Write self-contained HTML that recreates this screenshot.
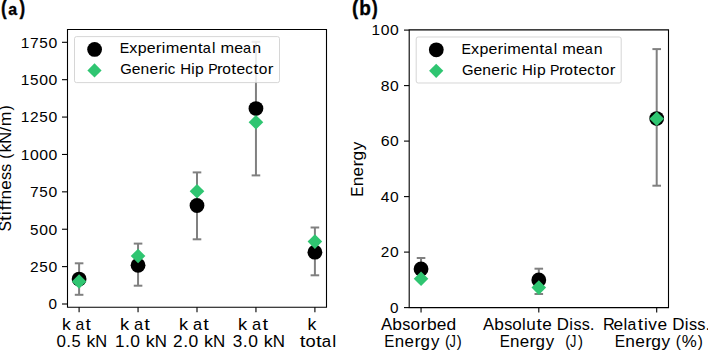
<!DOCTYPE html>
<html><head><meta charset="utf-8"><style>html,body{margin:0;padding:0;background:#fff;overflow:hidden}</style></head><body><svg width="708" height="351" viewBox="0 0 708 351" style="display:block">
<rect width="708" height="351" fill="#fff"/>
<g font-family="Liberation Sans, sans-serif">
<line x1="79.1" y1="263.3" x2="79.1" y2="294.8" stroke="#808080" stroke-width="2.0"/>
<line x1="74.8" y1="263.3" x2="83.39999999999999" y2="263.3" stroke="#808080" stroke-width="2.0"/>
<line x1="74.8" y1="294.8" x2="83.39999999999999" y2="294.8" stroke="#808080" stroke-width="2.0"/>
<line x1="138.05" y1="243.6" x2="138.05" y2="285.7" stroke="#808080" stroke-width="2.0"/>
<line x1="133.75" y1="243.6" x2="142.35000000000002" y2="243.6" stroke="#808080" stroke-width="2.0"/>
<line x1="133.75" y1="285.7" x2="142.35000000000002" y2="285.7" stroke="#808080" stroke-width="2.0"/>
<line x1="197.0" y1="172.4" x2="197.0" y2="239.3" stroke="#808080" stroke-width="2.0"/>
<line x1="192.7" y1="172.4" x2="201.3" y2="172.4" stroke="#808080" stroke-width="2.0"/>
<line x1="192.7" y1="239.3" x2="201.3" y2="239.3" stroke="#808080" stroke-width="2.0"/>
<line x1="255.95000000000002" y1="41.8" x2="255.95000000000002" y2="175.4" stroke="#808080" stroke-width="2.0"/>
<line x1="251.65" y1="41.8" x2="260.25" y2="41.8" stroke="#808080" stroke-width="2.0"/>
<line x1="251.65" y1="175.4" x2="260.25" y2="175.4" stroke="#808080" stroke-width="2.0"/>
<line x1="314.9" y1="227.5" x2="314.9" y2="275.3" stroke="#808080" stroke-width="2.0"/>
<line x1="310.59999999999997" y1="227.5" x2="319.2" y2="227.5" stroke="#808080" stroke-width="2.0"/>
<line x1="310.59999999999997" y1="275.3" x2="319.2" y2="275.3" stroke="#808080" stroke-width="2.0"/>
<circle cx="79.1" cy="279.05" r="7.4" fill="#000"/>
<circle cx="138.05" cy="265.3" r="7.4" fill="#000"/>
<circle cx="197.0" cy="205.5" r="7.4" fill="#000"/>
<circle cx="255.95000000000002" cy="108.6" r="7.4" fill="#000"/>
<circle cx="314.9" cy="252.2" r="7.4" fill="#000"/>
<path d="M79.1 274.2L86.39999999999999 281.5L79.1 288.8L71.8 281.5Z" fill="#2fc571"/>
<path d="M138.05 248.7L145.35000000000002 256.0L138.05 263.3L130.75 256.0Z" fill="#2fc571"/>
<path d="M197.0 184.0L204.3 191.3L197.0 198.60000000000002L189.7 191.3Z" fill="#2fc571"/>
<path d="M255.95000000000002 114.9L263.25 122.2L255.95000000000002 129.5L248.65 122.2Z" fill="#2fc571"/>
<path d="M314.9 234.29999999999998L322.2 241.6L314.9 248.9L307.59999999999997 241.6Z" fill="#2fc571"/>
<line x1="421.05" y1="258.0" x2="421.05" y2="279.8" stroke="#808080" stroke-width="2.0"/>
<line x1="416.75" y1="258.0" x2="425.35" y2="258.0" stroke="#808080" stroke-width="2.0"/>
<line x1="416.75" y1="279.8" x2="425.35" y2="279.8" stroke="#808080" stroke-width="2.0"/>
<line x1="538.8" y1="268.7" x2="538.8" y2="294.0" stroke="#808080" stroke-width="2.0"/>
<line x1="534.5" y1="268.7" x2="543.0999999999999" y2="268.7" stroke="#808080" stroke-width="2.0"/>
<line x1="534.5" y1="294.0" x2="543.0999999999999" y2="294.0" stroke="#808080" stroke-width="2.0"/>
<line x1="656.7" y1="49.1" x2="656.7" y2="185.7" stroke="#808080" stroke-width="2.0"/>
<line x1="652.4000000000001" y1="49.1" x2="661.0" y2="49.1" stroke="#808080" stroke-width="2.0"/>
<line x1="652.4000000000001" y1="185.7" x2="661.0" y2="185.7" stroke="#808080" stroke-width="2.0"/>
<circle cx="421.05" cy="268.9" r="7.4" fill="#000"/>
<circle cx="538.8" cy="280.0" r="7.4" fill="#000"/>
<circle cx="656.7" cy="118.6" r="7.4" fill="#000"/>
<path d="M421.05 271.5L428.35 278.8L421.05 286.1L413.75 278.8Z" fill="#2fc571"/>
<path d="M538.8 280.3L546.0999999999999 287.6L538.8 294.90000000000003L531.5 287.6Z" fill="#2fc571"/>
<path d="M656.7 111.4L664.0 118.7L656.7 126.0L649.4000000000001 118.7Z" fill="#2fc571"/>
<rect x="74.5" y="36.6" width="205.0" height="45.99999999999999" rx="2" fill="#fff" fill-opacity="0.84" stroke="#cccccc" stroke-opacity="0.8" stroke-width="1"/>
<circle cx="94.6" cy="49.4" r="7.4" fill="#000"/>
<path d="M94.5 63.300000000000004L101.6 70.4L94.5 77.5L87.4 70.4Z" fill="#2fc571"/>
<g font-size="14.1" fill="#000" ><text transform="scale(1.0121,1)" x="118.30" y="53.30">E</text><text transform="scale(1.1451,1)" x="112.88" y="53.30">x</text><text transform="scale(1.1340,1)" x="121.48" y="53.30">p</text><text transform="scale(1.1299,1)" x="129.84" y="53.30">e</text><text transform="scale(1.2306,1)" x="126.61" y="53.30">r</text><text transform="scale(1.0992,1)" x="147.12" y="53.30">i</text><text transform="scale(1.1605,1)" x="142.74" y="53.30">m</text><text transform="scale(1.1299,1)" x="158.81" y="53.30">e</text><text transform="scale(1.1289,1)" x="166.91" y="53.30">n</text><text transform="scale(1.2569,1)" x="157.28" y="53.30">t</text><text transform="scale(1.0310,1)" x="196.74" y="53.30">a</text><text transform="scale(1.0992,1)" x="192.94" y="53.30">l</text><text transform="scale(1.1605,1)" x="190.08" y="53.30">m</text><text transform="scale(1.1299,1)" x="207.44" y="53.30">e</text><text transform="scale(1.0310,1)" x="235.74" y="53.30">a</text><text transform="scale(1.1289,1)" x="223.38" y="53.30">n</text></g>
<g font-size="14.1" fill="#000" ><text transform="scale(1.0529,1)" x="114.29" y="74.40">G</text><text transform="scale(1.1080,1)" x="118.84" y="74.40">e</text><text transform="scale(1.1070,1)" x="126.97" y="74.40">n</text><text transform="scale(1.1080,1)" x="134.86" y="74.40">e</text><text transform="scale(1.2068,1)" x="131.28" y="74.40">r</text><text transform="scale(1.0779,1)" x="152.38" y="74.40">i</text><text transform="scale(1.0679,1)" x="157.20" y="74.40">c</text><text transform="scale(1.0633,1)" x="169.44" y="74.40">H</text><text transform="scale(1.0779,1)" x="177.40" y="74.40">i</text><text transform="scale(1.1120,1)" x="175.45" y="74.40">p</text><text transform="scale(1.0026,1)" x="207.69" y="74.40">P</text><text transform="scale(1.2068,1)" x="179.86" y="74.40">r</text><text transform="scale(1.0992,1)" x="202.24" y="74.40">o</text><text transform="scale(1.2325,1)" x="187.65" y="74.40">t</text><text transform="scale(1.1080,1)" x="213.53" y="74.40">e</text><text transform="scale(1.0679,1)" x="229.65" y="74.40">c</text><text transform="scale(1.2325,1)" x="205.61" y="74.40">t</text><text transform="scale(1.0992,1)" x="235.35" y="74.40">o</text><text transform="scale(1.2068,1)" x="221.81" y="74.40">r</text></g>
<rect x="416.2" y="37.0" width="205.0" height="45.99999999999999" rx="2" fill="#fff" fill-opacity="0.84" stroke="#cccccc" stroke-opacity="0.8" stroke-width="1"/>
<circle cx="436.29999999999995" cy="49.8" r="7.4" fill="#000"/>
<path d="M436.2 63.70000000000001L443.3 70.80000000000001L436.2 77.9L429.09999999999997 70.80000000000001Z" fill="#2fc571"/>
<g font-size="14.1" fill="#000" ><text transform="scale(1.0121,1)" x="455.90" y="53.70">E</text><text transform="scale(1.1451,1)" x="411.28" y="53.70">x</text><text transform="scale(1.1340,1)" x="422.80" y="53.70">p</text><text transform="scale(1.1299,1)" x="432.25" y="53.70">e</text><text transform="scale(1.2306,1)" x="404.28" y="53.70">r</text><text transform="scale(1.0992,1)" x="457.98" y="53.70">i</text><text transform="scale(1.1605,1)" x="437.18" y="53.70">m</text><text transform="scale(1.1299,1)" x="461.22" y="53.70">e</text><text transform="scale(1.1289,1)" x="469.59" y="53.70">n</text><text transform="scale(1.2569,1)" x="429.14" y="53.70">t</text><text transform="scale(1.0310,1)" x="528.17" y="53.70">a</text><text transform="scale(1.0992,1)" x="503.80" y="53.70">l</text><text transform="scale(1.1605,1)" x="484.53" y="53.70">m</text><text transform="scale(1.1299,1)" x="509.85" y="53.70">e</text><text transform="scale(1.0310,1)" x="567.17" y="53.70">a</text><text transform="scale(1.1289,1)" x="526.06" y="53.70">n</text></g>
<g font-size="14.1" fill="#000" ><text transform="scale(1.0556,1)" x="437.68" y="74.80">G</text><text transform="scale(1.1109,1)" x="426.13" y="74.80">e</text><text transform="scale(1.1099,1)" x="434.55" y="74.80">n</text><text transform="scale(1.1109,1)" x="442.16" y="74.80">e</text><text transform="scale(1.2099,1)" x="413.43" y="74.80">r</text><text transform="scale(1.0807,1)" x="468.26" y="74.80">i</text><text transform="scale(1.0707,1)" x="476.03" y="74.80">c</text><text transform="scale(1.0661,1)" x="489.65" y="74.80">H</text><text transform="scale(1.0807,1)" x="493.28" y="74.80">i</text><text transform="scale(1.1149,1)" x="481.64" y="74.80">p</text><text transform="scale(1.0052,1)" x="547.29" y="74.80">P</text><text transform="scale(1.2099,1)" x="462.00" y="74.80">r</text><text transform="scale(1.1021,1)" x="511.99" y="74.80">o</text><text transform="scale(1.2358,1)" x="463.91" y="74.80">t</text><text transform="scale(1.1109,1)" x="520.82" y="74.80">e</text><text transform="scale(1.0707,1)" x="548.48" y="74.80">c</text><text transform="scale(1.2358,1)" x="481.86" y="74.80">t</text><text transform="scale(1.1021,1)" x="545.10" y="74.80">o</text><text transform="scale(1.2099,1)" x="503.96" y="74.80">r</text></g>
<path d="M67.5 29.5H326.5V307.2H67.5Z" fill="none" stroke="#000" stroke-width="1.1"/>
<path d="M409.2 29.9H668.5V307.59999999999997H409.2Z" fill="none" stroke="#000" stroke-width="1.1"/>
<line x1="62" y1="304.00" x2="67.5" y2="304.00" stroke="#000" stroke-width="1.1"/>
<g font-size="14.8" fill="#000" ><text transform="scale(1.0328,1)" x="47.05" y="309.40">0</text></g>
<line x1="62" y1="266.61" x2="67.5" y2="266.61" stroke="#000" stroke-width="1.1"/>
<g font-size="14.8" fill="#000" ><text transform="scale(1.0453,1)" x="28.61" y="272.01">2</text><text transform="scale(1.0343,1)" x="38.00" y="272.01">5</text><text transform="scale(1.0647,1)" x="45.52" y="272.01">0</text></g>
<line x1="62" y1="229.23" x2="67.5" y2="229.23" stroke="#000" stroke-width="1.1"/>
<g font-size="14.8" fill="#000" ><text transform="scale(1.0298,1)" x="29.23" y="234.63">5</text><text transform="scale(1.0601,1)" x="37.03" y="234.63">0</text><text transform="scale(1.0601,1)" x="45.74" y="234.63">0</text></g>
<line x1="62" y1="191.84" x2="67.5" y2="191.84" stroke="#000" stroke-width="1.1"/>
<g font-size="14.8" fill="#000" ><text transform="scale(1.0507,1)" x="28.59" y="197.24">7</text><text transform="scale(1.0321,1)" x="38.10" y="197.24">5</text><text transform="scale(1.0624,1)" x="45.63" y="197.24">0</text></g>
<line x1="62" y1="154.46" x2="67.5" y2="154.46" stroke="#000" stroke-width="1.1"/>
<g font-size="14.8" fill="#000" ><text transform="scale(1.0417,1)" x="19.97" y="159.86">1</text><text transform="scale(1.0659,1)" x="28.15" y="159.86">0</text><text transform="scale(1.0659,1)" x="36.81" y="159.86">0</text><text transform="scale(1.0659,1)" x="45.46" y="159.86">0</text></g>
<line x1="62" y1="117.07" x2="67.5" y2="117.07" stroke="#000" stroke-width="1.1"/>
<g font-size="14.8" fill="#000" ><text transform="scale(1.0417,1)" x="19.97" y="122.47">1</text><text transform="scale(1.0465,1)" x="28.57" y="122.47">2</text><text transform="scale(1.0355,1)" x="37.96" y="122.47">5</text><text transform="scale(1.0659,1)" x="45.46" y="122.47">0</text></g>
<line x1="62" y1="79.68" x2="67.5" y2="79.68" stroke="#000" stroke-width="1.1"/>
<g font-size="14.8" fill="#000" ><text transform="scale(1.0417,1)" x="19.97" y="85.08">1</text><text transform="scale(1.0355,1)" x="29.05" y="85.08">5</text><text transform="scale(1.0659,1)" x="36.81" y="85.08">0</text><text transform="scale(1.0659,1)" x="45.46" y="85.08">0</text></g>
<line x1="62" y1="42.30" x2="67.5" y2="42.30" stroke="#000" stroke-width="1.1"/>
<g font-size="14.8" fill="#000" ><text transform="scale(1.0417,1)" x="19.97" y="47.70">1</text><text transform="scale(1.0542,1)" x="28.48" y="47.70">7</text><text transform="scale(1.0355,1)" x="37.96" y="47.70">5</text><text transform="scale(1.0659,1)" x="45.46" y="47.70">0</text></g>
<line x1="79.1" y1="307.2" x2="79.1" y2="312.2" stroke="#000" stroke-width="1.1"/>
<line x1="138.05" y1="307.2" x2="138.05" y2="312.2" stroke="#000" stroke-width="1.1"/>
<line x1="197.0" y1="307.2" x2="197.0" y2="312.2" stroke="#000" stroke-width="1.1"/>
<line x1="255.95000000000002" y1="307.2" x2="255.95000000000002" y2="312.2" stroke="#000" stroke-width="1.1"/>
<line x1="314.9" y1="307.2" x2="314.9" y2="312.2" stroke="#000" stroke-width="1.1"/>
<g font-size="15.8" fill="#000" ><text transform="scale(1.1145,1)" x="55.58" y="329.90">k</text><text transform="scale(0.9995,1)" x="75.46" y="329.90">a</text><text transform="scale(1.2185,1)" x="70.10" y="329.90">t</text></g>
<g font-size="15.8" fill="#000" ><text transform="scale(1.0762,1)" x="52.53" y="347.10">0</text><text transform="scale(1.0903,1)" x="60.87" y="347.10">.</text><text transform="scale(1.0455,1)" x="68.50" y="347.10">5</text><text transform="scale(1.1083,1)" x="78.08" y="347.10">k</text><text transform="scale(1.0417,1)" x="91.50" y="347.10">N</text></g>
<g font-size="15.8" fill="#000" ><text transform="scale(1.1629,1)" x="103.09" y="329.90">k</text><text transform="scale(1.0429,1)" x="128.44" y="329.90">a</text><text transform="scale(1.2714,1)" x="113.56" y="329.90">t</text></g>
<g font-size="15.8" fill="#000" ><text transform="scale(1.0797,1)" x="106.44" y="347.10">1</text><text transform="scale(1.1194,1)" x="111.67" y="347.10">.</text><text transform="scale(1.1048,1)" x="117.95" y="347.10">0</text><text transform="scale(1.1379,1)" x="128.07" y="347.10">k</text><text transform="scale(1.0695,1)" x="144.69" y="347.10">N</text></g>
<g font-size="15.8" fill="#000" ><text transform="scale(1.1508,1)" x="155.54" y="329.90">k</text><text transform="scale(1.0320,1)" x="186.93" y="329.90">a</text><text transform="scale(1.2582,1)" x="161.53" y="329.90">t</text></g>
<g font-size="15.8" fill="#000" ><text transform="scale(1.0885,1)" x="158.90" y="347.10">2</text><text transform="scale(1.1233,1)" x="163.11" y="347.10">.</text><text transform="scale(1.1087,1)" x="170.05" y="347.10">0</text><text transform="scale(1.1418,1)" x="178.63" y="347.10">k</text><text transform="scale(1.0732,1)" x="198.48" y="347.10">N</text></g>
<g font-size="15.8" fill="#000" ><text transform="scale(1.1589,1)" x="205.36" y="329.90">k</text><text transform="scale(1.0393,1)" x="242.48" y="329.90">a</text><text transform="scale(1.2670,1)" x="207.10" y="329.90">t</text></g>
<g font-size="15.8" fill="#000" ><text transform="scale(1.0846,1)" x="214.71" y="347.10">3</text><text transform="scale(1.1213,1)" x="216.60" y="347.10">.</text><text transform="scale(1.1068,1)" x="224.27" y="347.10">0</text><text transform="scale(1.1399,1)" x="231.31" y="347.10">k</text><text transform="scale(1.0714,1)" x="254.55" y="347.10">N</text></g>
<g font-size="15.8" fill="#000" ><text transform="scale(1.1227,1)" x="273.90" y="329.90">k</text></g>
<g font-size="15.8" fill="#000" ><text transform="scale(1.3015,1)" x="230.23" y="347.10">t</text><text transform="scale(1.1607,1)" x="263.30" y="347.10">o</text><text transform="scale(1.3015,1)" x="242.77" y="347.10">t</text><text transform="scale(1.0675,1)" x="301.38" y="347.10">a</text><text transform="scale(1.1382,1)" x="291.93" y="347.10">l</text></g>
<line x1="404" y1="307.60" x2="409.2" y2="307.60" stroke="#000" stroke-width="1.1"/>
<g font-size="14.8" fill="#000" ><text transform="scale(1.0328,1)" x="377.72" y="312.60">0</text></g>
<line x1="404" y1="252.10" x2="409.2" y2="252.10" stroke="#000" stroke-width="1.1"/>
<g font-size="14.8" fill="#000" ><text transform="scale(1.0393,1)" x="366.28" y="257.10">2</text><text transform="scale(1.0585,1)" x="368.42" y="257.10">0</text></g>
<line x1="404" y1="196.60" x2="409.2" y2="196.60" stroke="#000" stroke-width="1.1"/>
<g font-size="14.8" fill="#000" ><text transform="scale(1.0559,1)" x="360.61" y="201.60">4</text><text transform="scale(1.0559,1)" x="369.37" y="201.60">0</text></g>
<line x1="404" y1="141.10" x2="409.2" y2="141.10" stroke="#000" stroke-width="1.1"/>
<g font-size="14.8" fill="#000" ><text transform="scale(1.0788,1)" x="352.88" y="146.10">6</text><text transform="scale(1.0604,1)" x="367.77" y="146.10">0</text></g>
<line x1="404" y1="85.60" x2="409.2" y2="85.60" stroke="#000" stroke-width="1.1"/>
<g font-size="14.8" fill="#000" ><text transform="scale(1.0632,1)" x="358.10" y="90.60">8</text><text transform="scale(1.0575,1)" x="368.78" y="90.60">0</text></g>
<line x1="404" y1="30.10" x2="409.2" y2="30.10" stroke="#000" stroke-width="1.1"/>
<g font-size="14.8" fill="#000" ><text transform="scale(1.0382,1)" x="357.87" y="35.10">1</text><text transform="scale(1.0623,1)" x="358.41" y="35.10">0</text><text transform="scale(1.0623,1)" x="367.09" y="35.10">0</text></g>
<line x1="421.05" y1="307.59999999999997" x2="421.05" y2="312.59999999999997" stroke="#000" stroke-width="1.1"/>
<line x1="538.8" y1="307.59999999999997" x2="538.8" y2="312.59999999999997" stroke="#000" stroke-width="1.1"/>
<line x1="656.7" y1="307.59999999999997" x2="656.7" y2="312.59999999999997" stroke="#000" stroke-width="1.1"/>
<g font-size="15.8" fill="#000" ><text transform="scale(1.0591,1)" x="359.75" y="330.10">A</text><text transform="scale(1.1007,1)" x="356.44" y="330.10">b</text><text transform="scale(1.0332,1)" x="389.36" y="330.10">s</text><text transform="scale(1.0880,1)" x="377.25" y="330.10">o</text><text transform="scale(1.1945,1)" x="352.01" y="330.10">r</text><text transform="scale(1.1007,1)" x="387.87" y="330.10">b</text><text transform="scale(1.0967,1)" x="398.28" y="330.10">e</text><text transform="scale(1.1001,1)" x="405.94" y="330.10">d</text></g>
<g font-size="15.8" fill="#000" ><text transform="scale(0.9581,1)" x="401.06" y="347.20">E</text><text transform="scale(1.0687,1)" x="369.35" y="347.20">n</text><text transform="scale(1.0696,1)" x="378.25" y="347.20">e</text><text transform="scale(1.1650,1)" x="355.87" y="347.20">r</text><text transform="scale(1.0730,1)" x="391.98" y="347.20">g</text><text transform="scale(1.0666,1)" x="404.00" y="347.20">y</text><text transform="scale(0.9463,1)" x="470.33" y="347.20">(</text><text transform="scale(0.8012,1)" x="560.89" y="347.20">J</text><text transform="scale(0.9463,1)" x="482.59" y="347.20">)</text></g>
<g font-size="15.8" fill="#000" ><text transform="scale(1.0500,1)" x="460.10" y="330.10">A</text><text transform="scale(1.0912,1)" x="452.99" y="330.10">b</text><text transform="scale(1.0243,1)" x="492.20" y="330.10">s</text><text transform="scale(1.0787,1)" x="474.88" y="330.10">o</text><text transform="scale(1.0577,1)" x="493.60" y="330.10">l</text><text transform="scale(1.0863,1)" x="484.50" y="330.10">u</text><text transform="scale(1.2094,1)" x="443.56" y="330.10">t</text><text transform="scale(1.0873,1)" x="498.80" y="330.10">e</text><text transform="scale(1.0641,1)" x="523.33" y="330.10">D</text><text transform="scale(1.0577,1)" x="538.25" y="330.10">i</text><text transform="scale(1.0243,1)" x="559.91" y="330.10">s</text><text transform="scale(1.0243,1)" x="567.90" y="330.10">s</text><text transform="scale(1.0882,1)" x="541.98" y="330.10">.</text></g>
<g font-size="15.8" fill="#000" ><text transform="scale(1.0319,1)" x="584.40" y="330.10">R</text><text transform="scale(1.0966,1)" x="559.51" y="330.10">e</text><text transform="scale(1.0668,1)" x="584.51" y="330.10">l</text><text transform="scale(1.0006,1)" x="627.17" y="330.10">a</text><text transform="scale(1.2198,1)" x="522.82" y="330.10">t</text><text transform="scale(1.0668,1)" x="603.61" y="330.10">i</text><text transform="scale(1.0961,1)" x="591.50" y="330.10">v</text><text transform="scale(1.0966,1)" x="599.57" y="330.10">e</text><text transform="scale(1.0732,1)" x="626.33" y="330.10">D</text><text transform="scale(1.0668,1)" x="641.89" y="330.10">i</text><text transform="scale(1.0330,1)" x="666.95" y="330.10">s</text><text transform="scale(1.0330,1)" x="674.96" y="330.10">s</text><text transform="scale(1.0976,1)" x="642.76" y="330.10">.</text></g>
<g font-size="15.8" fill="#000" ><text transform="scale(0.9822,1)" x="625.99" y="347.20">E</text><text transform="scale(1.0955,1)" x="570.79" y="347.20">n</text><text transform="scale(1.0965,1)" x="579.30" y="347.20">e</text><text transform="scale(1.1942,1)" x="540.30" y="347.20">r</text><text transform="scale(1.0999,1)" x="592.07" y="347.20">g</text><text transform="scale(1.0933,1)" x="605.08" y="347.20">y</text><text transform="scale(0.9700,1)" x="696.66" y="347.20">(</text><text transform="scale(1.0691,1)" x="637.74" y="347.20">%</text><text transform="scale(0.9700,1)" x="719.37" y="347.20">)</text></g>
<g font-size="15.8" fill="#000" ><text transform="scale(0.9608,1)" x="520.07" y="347.20">E</text><text transform="scale(1.0717,1)" x="475.87" y="347.20">n</text><text transform="scale(1.0727,1)" x="484.51" y="347.20">e</text><text transform="scale(1.1683,1)" x="453.30" y="347.20">r</text><text transform="scale(1.0760,1)" x="497.65" y="347.20">g</text><text transform="scale(1.0696,1)" x="510.13" y="347.20">y</text></g>
<g font-size="15.8" fill="#000" ><text transform="scale(0.9477,1)" x="596.46" y="347.20">(</text><text transform="scale(0.8024,1)" x="710.40" y="347.20">J</text><text transform="scale(0.9477,1)" x="609.89" y="347.20">)</text></g>
<g transform="rotate(-90)" font-size="16.2" fill="#000" ><text transform="scale(0.9701,1)" x="-238.64" y="10.90">S</text><text transform="scale(1.1879,1)" x="-186.06" y="10.90">t</text><text transform="scale(1.0389,1)" x="-206.86" y="10.90">i</text><text transform="scale(1.1774,1)" x="-178.84" y="10.90">f</text><text transform="scale(1.1774,1)" x="-174.15" y="10.90">f</text><text transform="scale(1.0669,1)" x="-187.10" y="10.90">n</text><text transform="scale(1.0679,1)" x="-177.76" y="10.90">e</text><text transform="scale(1.0060,1)" x="-179.02" y="10.90">s</text><text transform="scale(1.0060,1)" x="-170.90" y="10.90">s</text><text transform="scale(0.9447,1)" x="-168.05" y="10.90">(</text><text transform="scale(1.0865,1)" x="-140.39" y="10.90">k</text><text transform="scale(1.0212,1)" x="-140.80" y="10.90">N</text><text transform="scale(1.1315,1)" x="-116.52" y="10.90">/</text><text transform="scale(1.0968,1)" x="-115.22" y="10.90">m</text><text transform="scale(0.9447,1)" x="-116.94" y="10.90">)</text></g>
<g transform="rotate(-90)" font-size="16.2" fill="#000" ><text transform="scale(0.9478,1)" x="-207.55" y="362.60">E</text><text transform="scale(1.0572,1)" x="-176.24" y="362.60">n</text><text transform="scale(1.0581,1)" x="-166.78" y="362.60">e</text><text transform="scale(1.1524,1)" x="-144.48" y="362.60">r</text><text transform="scale(1.0614,1)" x="-151.25" y="362.60">g</text><text transform="scale(1.0551,1)" x="-142.43" y="362.60">y</text></g>
<text x="1.22" y="14.50" font-size="21.0" font-weight="bold" fill="#000" textLength="5.19" lengthAdjust="spacingAndGlyphs" stroke="#000" stroke-width="0.7">(</text>
<text x="8.33" y="14.80" font-size="17.4" font-weight="bold" fill="#000" textLength="8.87" lengthAdjust="spacingAndGlyphs" stroke="#000" stroke-width="0.35">a</text>
<text x="19.78" y="14.50" font-size="21.0" font-weight="bold" fill="#000" textLength="5.19" lengthAdjust="spacingAndGlyphs" stroke="#000" stroke-width="0.7">)</text>
<text x="352.25" y="14.60" font-size="21.0" font-weight="bold" fill="#000" textLength="5.66" lengthAdjust="spacingAndGlyphs" stroke="#000" stroke-width="0.7">(</text>
<text x="359.14" y="14.80" font-size="20.5" font-weight="bold" fill="#000" textLength="11.64" lengthAdjust="spacingAndGlyphs" stroke="#000" stroke-width="0.35">b</text>
<text x="372.18" y="14.60" font-size="21.0" font-weight="bold" fill="#000" textLength="5.31" lengthAdjust="spacingAndGlyphs" stroke="#000" stroke-width="0.7">)</text>
</g></svg></body></html>
